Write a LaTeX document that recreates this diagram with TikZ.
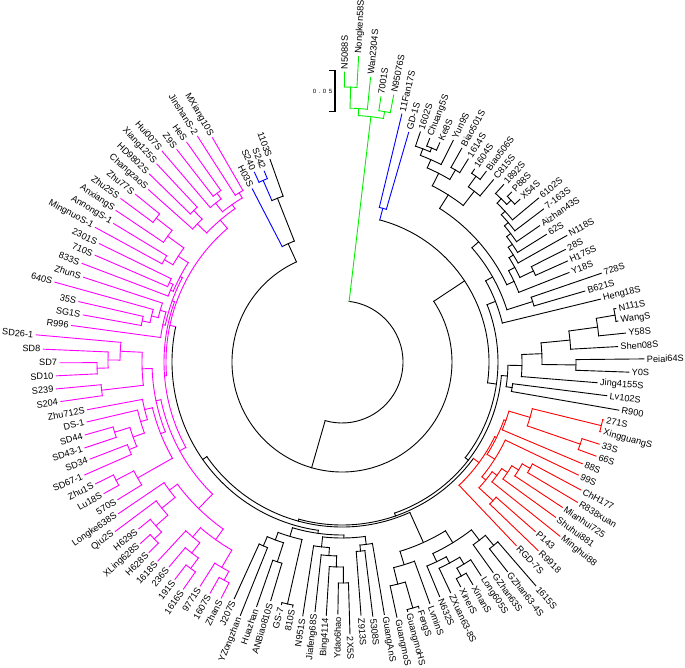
\documentclass[tikz,border=0pt]{standalone}
\usepackage{fontspec}
\setmainfont{Liberation Sans}
\definecolor{gcol}{RGB}{0,240,0}
\definecolor{bcol}{RGB}{0,0,255}
\definecolor{rcol}{RGB}{255,0,0}
\definecolor{mcol}{RGB}{255,0,255}
\definecolor{kcol}{RGB}{0,0,0}
\newcounter{lfidx}
\newcommand\Lf[3]{%
  \pgfmathsetmacro\la{89.5-2.615*\arabic{lfidx}}%
  \expandafter\xdef\csname A@#1\endcsname{\la}%
  \expandafter\xdef\csname R@#1\endcsname{#2}%
  \expandafter\xdef\csname C@#1\endcsname{#3}%
  \stepcounter{lfidx}%
  \coordinate (#1) at ({\la}:{#2pt});%
  \pgfmathtruncatemacro\side{\la>-90?1:0}%
  \ifnum\side=1\relax
    \node[lbl,anchor=west,rotate=\la] (L-#1) at ({\la}:{#2pt+2.5pt}) {#1};%
  \else
    \pgfmathsetmacro\lr{\la+180}%
    \node[lbl,anchor=east,rotate=\lr] (L-#1) at ({\la}:{#2pt+2.5pt}) {#1};%
  \fi
}
\newcommand\Nd[6][]{%
  \edef\na{\csname A@#3\endcsname}%
  \edef\nb{\csname A@#4\endcsname}%
  \edef\cca{\csname C@#3\endcsname}%
  \edef\ccb{\csname C@#4\endcsname}%
  \if\relax\detokenize{#1}\relax
    \pgfmathsetmacro\nm{(\na+\nb)/2}%
  \else
    \def\nm{#1}%
  \fi
  \expandafter\xdef\csname A@#2\endcsname{\nm}%
  \expandafter\xdef\csname R@#2\endcsname{#5}%
  \expandafter\xdef\csname C@#2\endcsname{#6}%
  \coordinate (#2) at ({\nm}:{#5pt});%
  \draw[#6] ({\na}:{#5pt}) arc[start angle=\na,end angle=\nb,radius=#5pt];%
  \draw[\cca] ({\na}:{#5pt}) -- (#3);%
  \draw[\ccb] ({\nb}:{#5pt}) -- (#4);%
}
\begin{document}
\begin{tikzpicture}[x=1pt,y=1pt,line width=0.9pt,line cap=rect,
  lbl/.style={inner sep=0pt,font=\fontsize{9.2}{10}\selectfont}]
\useasboundingbox (-342,-305) rectangle (343,362);
% ---------------- leaves (clockwise from top) ----------------
\Lf{N5088S}{290}{gcol}
\Lf{Nongken58S}{306}{gcol}
\Lf{Wan2304S}{286}{gcol}
\Lf{7001S}{268}{gcol}
\Lf{N95076S}{272}{gcol}
\Lf{11Fan17S}{255}{bcol}
\Lf{GD-1S}{239}{bcol}
\Lf{1602S}{243}{kcol}
\Lf{Chuang5S}{240}{kcol}
\Lf{Ke8S}{240}{kcol}
\Lf{Yun9S}{248}{kcol}
\Lf{Biao501S}{245}{kcol}
\Lf{1614S}{239}{kcol}
\Lf{1604S}{234}{kcol}
\Lf{Biao506S}{239}{kcol}
\Lf{C815S}{237}{kcol}
\Lf{1892S}{240}{kcol}
\Lf{P88S}{240}{kcol}
\Lf{X54S}{241}{kcol}
\Lf{6102S}{256}{kcol}
\Lf{7-163S}{253}{kcol}
\Lf{Aizhan43S}{240}{kcol}
\Lf{62S}{241}{kcol}
\Lf{N118S}{258}{kcol}
\Lf{28S}{250}{kcol}
\Lf{H175S}{247}{kcol}
\Lf{Y18S}{244}{kcol}
\Lf{728S}{274}{kcol}
\Lf{B621S}{253}{kcol}
\Lf{Heng18S}{266}{kcol}
\Lf{N111S}{279}{kcol}
\Lf{WangS}{279}{kcol}
\Lf{Y58S}{285}{kcol}
\Lf{Shen08S}{276}{kcol}
\Lf{Peiai64S}{302}{kcol}
\Lf{Y0S}{287}{kcol}
\Lf{Jing4155S}{256}{kcol}
\Lf{Lv102S}{267}{kcol}
\Lf{R900}{281}{kcol}
\Lf{271S}{268}{rcol}
\Lf{XingguangS}{268}{rcol}
\Lf{33S}{270}{rcol}
\Lf{66S}{271}{rcol}
\Lf{88S}{261}{rcol}
\Lf{99S}{262}{rcol}
\Lf{ChH177}{271}{rcol}
\Lf{R838xuan}{274}{rcol}
\Lf{Mianhui725}{264}{rcol}
\Lf{Shuhui881}{264}{rcol}
\Lf{Minghui88}{279}{rcol}
\Lf{P143}{257}{rcol}
\Lf{R9918}{272}{rcol}
\Lf{RGD-7S}{253}{rcol}
\Lf{1615S}{296}{kcol}
\Lf{GZhan63-4S}{267}{kcol}
\Lf{GZhan63S}{259}{kcol}
\Lf{Long605S}{255}{kcol}
\Lf{XinanS}{258}{kcol}
\Lf{XinerS}{254}{kcol}
\Lf{ZXuan63-8S}{255}{kcol}
\Lf{N632S}{254}{kcol}
\Lf{LvminS}{257}{kcol}
\Lf{FengS}{258}{kcol}
\Lf{GuangmoHS}{258}{kcol}
\Lf{GuangmoS}{261}{kcol}
\Lf{GuangAnS}{256}{kcol}
\Lf{5308S}{256}{kcol}
\Lf{Z913S}{254}{kcol}
\Lf{2X5S}{272}{kcol}
\Lf{Ydao6hao}{252}{kcol}
\Lf{Bing4114}{254}{kcol}
\Lf{Jiafeng68S}{251}{kcol}
\Lf{N951S}{257}{kcol}
\Lf{810S}{250}{kcol}
\Lf{GS-7}{250}{kcol}
\Lf{ANBiao810S}{249}{kcol}
\Lf{Huazhan}{259}{kcol}
\Lf{YZongzhan}{273}{kcol}
\Lf{J207S}{260}{kcol}
\Lf{ZhanS}{265}{mcol}
\Lf{1607S}{266}{mcol}
\Lf{9771S}{265}{mcol}
\Lf{1616S}{277}{mcol}
\Lf{191S}{274}{mcol}
\Lf{236S}{268}{mcol}
\Lf{1618S}{271}{mcol}
\Lf{H628S}{271}{mcol}
\Lf{XLing628S}{271}{mcol}
\Lf{H629S}{263}{mcol}
\Lf{Qiu2S}{283}{mcol}
\Lf{Longke638S}{270}{mcol}
\Lf{570S}{263}{mcol}
\Lf{Lu18S}{272}{mcol}
\Lf{Zhu1S}{275}{mcol}
\Lf{SD67-1}{281}{mcol}
\Lf{SD34}{270}{mcol}
\Lf{SD43-1}{271}{mcol}
\Lf{SD44}{267}{mcol}
\Lf{DS-1}{262}{mcol}
\Lf{Zhu712S}{259}{mcol}
\Lf{S204}{284}{mcol}
\Lf{S239}{287}{mcol}
\Lf{SD10}{286}{mcol}
\Lf{SD7}{282}{mcol}
\Lf{SD8}{299}{mcol}
\Lf{SD26-1}{307}{mcol}
\Lf{R996}{273}{mcol}
\Lf{SG1S}{263}{mcol}
\Lf{35S}{270}{mcol}
\Lf{640S}{298}{mcol}
\Lf{ZhunS}{272}{mcol}
\Lf{833S}{278}{mcol}
\Lf{710S}{269}{mcol}
\Lf{2301S}{270}{mcol}
\Lf{MingnuoS-1}{281}{mcol}
\Lf{AnnongS-1}{267}{mcol}
\Lf{AnxiangS}{272}{mcol}
\Lf{Zhu25S}{275}{mcol}
\Lf{Zhu77S}{266}{mcol}
\Lf{ChangzaoS}{259}{mcol}
\Lf{HD9802S}{269}{mcol}
\Lf{Xiang125S}{271}{mcol}
\Lf{Hui007S}{277}{mcol}
\Lf{Z9S}{269}{mcol}
\Lf{HeS}{269}{mcol}
\Lf{JinshanS-2}{268}{mcol}
\Lf{MXiang10S}{259}{mcol}
\Lf{H03S}{195}{bcol}
\Lf{S240}{209}{bcol}
\Lf{S242}{206}{bcol}
\Lf{1103S}{215}{kcol}
% ---------------- internal nodes ----------------
% green
\Nd{GA}{N5088S}{Nongken58S}{275}{gcol}
\Nd{GB}{GA}{Wan2304S}{254}{gcol}
\Nd{GD}{7001S}{N95076S}{254}{gcol}
\Nd{G}{GB}{GD}{247}{gcol}
% blue
\Nd{Bl}{11Fan17S}{GD-1S}{159}{bcol}
% upper right black
\Nd{a1}{Chuang5S}{Ke8S}{232}{kcol}
\Nd{a2}{1602S}{a1}{228}{kcol}
\Nd{a3}{a2}{Yun9S}{221}{kcol}
\Nd{a4}{Biao501S}{1614S}{223}{kcol}
\Nd{a5}{a3}{a4}{212}{kcol}
\Nd{b1}{1604S}{Biao506S}{229}{kcol}
\Nd{b2}{b1}{C815S}{216}{kcol}
\Nd{ab}{a5}{b2}{198}{kcol}
\Nd{c1}{P88S}{X54S}{234}{kcol}
\Nd{c2}{1892S}{c1}{228}{kcol}
\Nd{c3}{c2}{6102S}{222}{kcol}
\Nd{c4}{c3}{7-163S}{217}{kcol}
\Nd{c5}{c4}{Aizhan43S}{212}{kcol}
\Nd{c6}{c5}{62S}{207}{kcol}
\Nd{c7}{c6}{N118S}{202}{kcol}
\Nd{d1}{28S}{H175S}{212}{kcol}
\Nd{c8}{c7}{d1}{197}{kcol}
\Nd{c9}{c8}{Y18S}{190}{kcol}
\Nd{abc}{ab}{c9}{182}{kcol}
\Nd{e1}{728S}{B621S}{200}{kcol}
\Nd{f1}{abc}{e1}{173}{kcol}
\Nd{T1}{f1}{Heng18S}{165}{kcol}
\Nd{g1}{N111S}{WangS}{277}{kcol}
\Nd{g2}{g1}{Y58S}{258}{kcol}
\Nd{g3}{g2}{Shen08S}{229}{kcol}
\Nd{g4}{Peiai64S}{Y0S}{234}{kcol}
\Nd{g5}{g3}{g4}{200}{kcol}
\Nd{g6}{g5}{Jing4155S}{180}{kcol}
\Nd{h1}{Lv102S}{R900}{172}{kcol}
\Nd{T2}{g6}{h1}{166}{kcol}
% red
\Nd{r1}{271S}{XingguangS}{267}{rcol}
\Nd{r2}{33S}{66S}{252}{rcol}
\Nd{r3}{r1}{r2}{196}{rcol}
\Nd{r4}{r3}{88S}{174}{rcol}
\Nd{r5}{ChH177}{R838xuan}{216}{rcol}
\Nd{r6}{r5}{Mianhui725}{207}{rcol}
\Nd{r7}{r6}{Shuhui881}{199}{rcol}
\Nd{r8}{r7}{Minghui88}{192}{rcol}
\Nd{r9}{P143}{R9918}{205}{rcol}
\Nd{r10}{r8}{r9}{186}{rcol}
\Nd{r11}{99S}{r10}{181}{rcol}
\Nd{r12}{r4}{r11}{172}{rcol}
\Nd{Rd}{r12}{RGD-7S}{170}{rcol}
% bottom black
\Nd{k1}{1615S}{GZhan63-4S}{238}{kcol}
\Nd{k2}{k1}{GZhan63S}{225}{kcol}
\Nd{m1}{XinanS}{XinerS}{245}{kcol}
\Nd{m2}{Long605S}{m1}{236}{kcol}
\Nd{n1}{m2}{ZXuan63-8S}{228}{kcol}
\Nd{n2}{n1}{N632S}{221}{kcol}
\Nd{n3}{k2}{n2}{212}{kcol}
\Nd{p1}{FengS}{GuangmoHS}{256}{kcol}
\Nd{p2}{p1}{GuangmoS}{229}{kcol}
\Nd{n4}{LvminS}{p2}{212}{kcol}
\Nd{BB1}{n3}{n4}{198}{kcol}
\Nd{t1}{5308S}{Z913S}{190}{kcol}
\Nd{t2}{GuangAnS}{t1}{184}{kcol}
\Nd{s1}{2X5S}{Ydao6hao}{221}{kcol}
\Nd{s2}{s1}{Bing4114}{205}{kcol}
\Nd{s3}{s2}{Jiafeng68S}{194}{kcol}
\Nd{s4}{s3}{N951S}{186}{kcol}
\Nd{u}{t2}{s4}{176}{kcol}
\Nd{v1}{810S}{GS-7}{248}{kcol}
\Nd{w2}{ANBiao810S}{Huazhan}{210}{kcol}
\Nd{w1}{YZongzhan}{J207S}{200}{kcol}
\Nd{w3}{w2}{w1}{190}{kcol}
\Nd{v2}{v1}{w3}{182}{kcol}
\Nd{BB2}{u}{v2}{173}{kcol}
% magenta
\Nd{q1}{ZhanS}{1607S}{248}{mcol}
\Nd{q2}{q1}{9771S}{238}{mcol}
\Nd{q3}{1616S}{191S}{256}{mcol}
\Nd{q4}{q3}{236S}{243}{mcol}
\Nd{q5}{q4}{1618S}{230}{mcol}
\Nd{q6}{q2}{q5}{218}{mcol}
\Nd{x1}{H628S}{XLing628S}{258}{mcol}
\Nd{x2}{x1}{H629S}{248}{mcol}
\Nd{x3}{x2}{Qiu2S}{232}{mcol}
\Nd{x4}{x3}{Longke638S}{215}{mcol}
\Nd{ML}{q6}{x4}{205}{mcol}
\Nd{y1}{Lu18S}{Zhu1S}{255}{mcol}
\Nd{y2}{570S}{y1}{235}{mcol}
\Nd{y3}{SD67-1}{SD34}{230}{mcol}
\Nd{y4}{SD43-1}{SD44}{238}{mcol}
\Nd{y5}{y3}{y4}{222}{mcol}
\Nd{y6}{y5}{DS-1}{210}{mcol}
\Nd{y7}{y6}{Zhu712S}{203}{mcol}
\Nd{y8}{y2}{y7}{195}{mcol}
\Nd{z1}{S204}{S239}{242}{mcol}
\Nd{z2}{SD10}{SD7}{245}{mcol}
\Nd{z3}{z2}{SD8}{234}{mcol}
\Nd{z4}{z3}{SD26-1}{222}{mcol}
\Nd{z5}{z1}{z4}{200}{mcol}
\Nd{MM}{y8}{z5}{190}{mcol}
\Nd{M1a}{ML}{MM}{185}{mcol}
\Nd{o1}{SG1S}{35S}{204}{mcol}
\Nd{o2}{o1}{640S}{196}{mcol}
\Nd{o3}{o2}{ZhunS}{189}{mcol}
\Nd{o4}{R996}{o3}{183}{mcol}
\Nd{i5}{710S}{2301S}{190}{mcol}
\Nd{i6}{833S}{i5}{186}{mcol}
\Nd{i3}{MingnuoS-1}{AnnongS-1}{205}{mcol}
\Nd{i1}{Zhu25S}{Zhu77S}{235}{mcol}
\Nd{i2}{AnxiangS}{i1}{215}{mcol}
\Nd{i4}{i3}{i2}{195}{mcol}
\Nd{i7}{i6}{i4}{183}{mcol}
\Nd{M1b}{o4}{i7}{180.5}{mcol}
\Nd{M1}{M1a}{M1b}{178}{mcol}
\Nd{j5}{HD9802S}{Xiang125S}{212}{mcol}
\Nd{j6}{ChangzaoS}{j5}{200}{mcol}
\Nd{j2}{Z9S}{HeS}{210}{mcol}
\Nd{j3}{Hui007S}{j2}{203}{mcol}
\Nd{j1}{JinshanS-2}{MXiang10S}{198}{mcol}
\Nd{j4}{j3}{j1}{192}{mcol}
\Nd{j7}{j6}{j4}{187}{mcol}
\Nd[-192]{MG}{M1}{j7}{176}{mcol}
% backbone
\Nd{E3}{BB2}{MG}{170}{kcol}
\Nd{E2}{BB1}{E3}{165}{kcol}
\Nd{D2}{Rd}{E2}{163}{kcol}
\Nd{C2}{T2}{D2}{160}{kcol}
\Nd{Y}{T1}{C2}{156}{kcol}
\Nd{X}{Bl}{Y}{147}{kcol}
\Nd{SS}{S240}{S242}{198}{bcol}
\Nd{Q}{SS}{1103S}{176}{kcol}
\Nd{P}{H03S}{Q}{130}{kcol}
\Nd{N2}{P}{X}{110}{kcol}
\Nd{root}{G}{N2}{61}{kcol}
% scale bar
\draw[line width=2.2pt,line cap=butt] (-7,292) -- (-7,249.5);
\draw[line width=1.2pt] (-12,291.3) -- (-7,291.3);
\draw[line width=1.2pt] (-12,250.2) -- (-7,250.2);
\node[inner sep=0pt,font=\fontsize{6}{7}\selectfont] (scale) at (-19.5,271)
  {0\hspace{2.6pt}.\hspace{2.6pt}0\hspace{2.6pt}5};
\end{tikzpicture}
\end{document}
